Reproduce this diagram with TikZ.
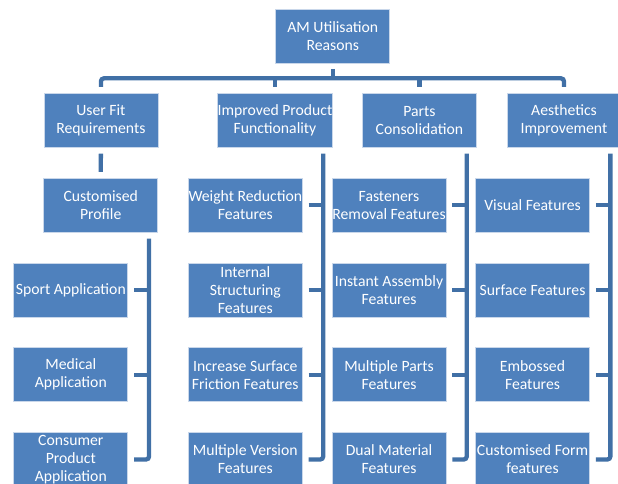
\documentclass[tikz,border=0pt]{standalone}
\usepackage{fontspec}
\setmainfont{Carlito}
\definecolor{boxblue}{HTML}{4F81BD}
\definecolor{connblue}{HTML}{4170A6}
\definecolor{edgeblue}{HTML}{C9D7EA}
\begin{document}
\begin{tikzpicture}[x=1pt,y=-1pt,
  box/.style={rectangle, fill=boxblue, draw=edgeblue, line width=0.7pt,
    minimum width=114pt, minimum height=54pt, inner sep=0pt, align=center,
    text=white, font=\fontsize{15.7}{18}\selectfont},
  conn/.style={draw=connblue, line width=4.3pt, rounded corners=3pt}]
\useasboundingbox (0,0) rectangle (618,484);
% top
\node[box] (top) at (332.8,36) {AM Utilisation\\Reasons};
% level 1
\node[box] (uf) at (100.9,120.3) {User Fit\\Requirements};
\node[box] (ip) at (275,120.3) {Improved Product\\Functionality};
\node[box] (pc) at (419.4,120.3) {Parts\\Consolidation};
\node[box] (ae) at (564,120.3) {Aesthetics\\Improvement};
% customised profile
\node[box] (cp) at (100.7,205.2) {Customised\\Profile};
\node[box] (sp) at (70.8,290) {Sport Application};
\node[box] (ma) at (70.8,374.7) {Medical\\Application};
\node[box] (cpa) at (70.8,459.5) {Consumer\\Product\\Application};
% improved product
\node[box] (i1) at (245.3,205.2) {Weight Reduction\\Features};
\node[box] (i2) at (245.3,290) {Internal\\Structuring\\Features};
\node[box] (i3) at (245.3,374.7) {Increase Surface\\Friction Features};
\node[box] (i4) at (245.3,459.5) {Multiple Version\\Features};
% parts consolidation
\node[box] (p1) at (389,205.2) {Fasteners\\Removal Features};
\node[box] (p2) at (389,290) {Instant Assembly\\Features};
\node[box] (p3) at (389,374.7) {Multiple Parts\\Features};
\node[box] (p4) at (389,459.5) {Dual Material\\Features};
% aesthetics
\node[box] (a1) at (532.5,205.2) {Visual Features};
\node[box] (a2) at (532.5,290) {Surface Features};
\node[box] (a3) at (532.5,374.7) {Embossed\\Features};
\node[box] (a4) at (532.5,459.5) {Customised Form\\features};
% top bus
\coordinate (bus) at ([yshift=-15pt]top.south);
\draw[conn] ([yshift=-5.5pt]top.south) -- (bus);
\draw[conn] ([yshift=6pt]uf.north) |- (bus) -| ([yshift=6pt]ae.north);
\draw[conn] ([yshift=6pt]ip.north) -- (ip.north |- bus);
\draw[conn] ([yshift=6pt]pc.north) -- (pc.north |- bus);
% user fit -> customised
\draw[conn] ([yshift=-6pt]uf.south) -- ([yshift=6pt]cp.north);
% customised profile children
\coordinate (lcp) at ([xshift=-9pt,yshift=-6pt]cp.south east);
\draw[conn] (lcp) |- ([xshift=6pt]cpa.east);
\draw[conn] ([xshift=6pt]sp.east) -- (sp.east -| lcp);
\draw[conn] ([xshift=6pt]ma.east) -- (ma.east -| lcp);
% improved children
\coordinate (lip) at ([xshift=-9.5pt,yshift=-6pt]ip.south east);
\draw[conn] (lip) |- ([xshift=6pt]i4.east);
\draw[conn] ([xshift=6pt]i1.east) -- (i1.east -| lip);
\draw[conn] ([xshift=6pt]i2.east) -- (i2.east -| lip);
\draw[conn] ([xshift=6pt]i3.east) -- (i3.east -| lip);
% parts children
\coordinate (lpc) at ([xshift=-10pt,yshift=-6pt]pc.south east);
\draw[conn] (lpc) |- ([xshift=6pt]p4.east);
\draw[conn] ([xshift=6pt]p1.east) -- (p1.east -| lpc);
\draw[conn] ([xshift=6pt]p2.east) -- (p2.east -| lpc);
\draw[conn] ([xshift=6pt]p3.east) -- (p3.east -| lpc);
% aesthetics children
\coordinate (lae) at ([xshift=-11pt,yshift=-6pt]ae.south east);
\draw[conn] (lae) |- ([xshift=6pt]a4.east);
\draw[conn] ([xshift=6pt]a1.east) -- (a1.east -| lae);
\draw[conn] ([xshift=6pt]a2.east) -- (a2.east -| lae);
\draw[conn] ([xshift=6pt]a3.east) -- (a3.east -| lae);
\end{tikzpicture}
\end{document}
